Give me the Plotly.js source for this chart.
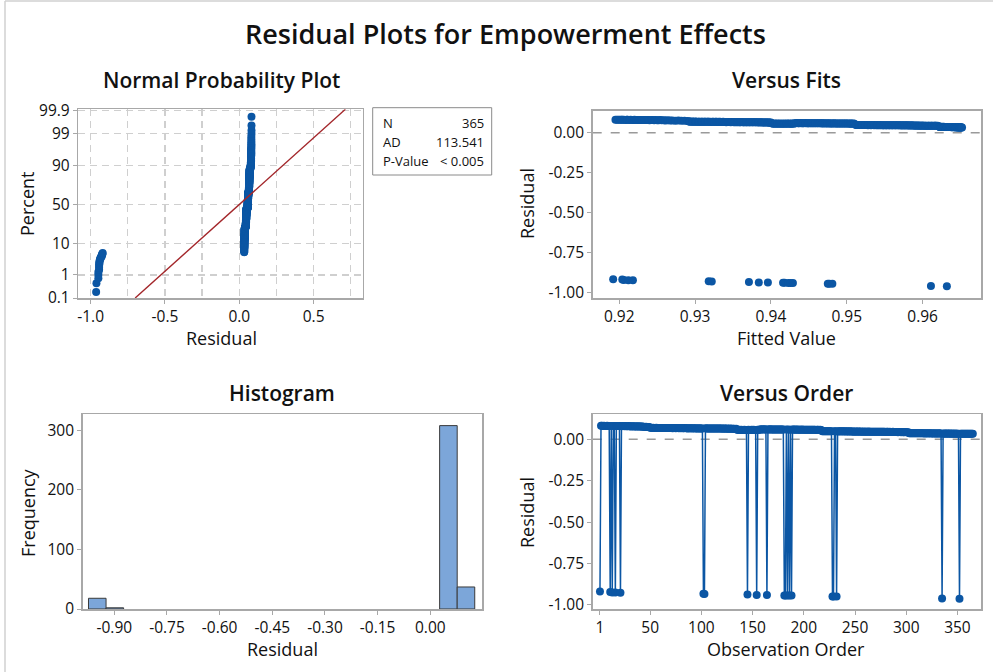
<!DOCTYPE html>
<html><head><meta charset="utf-8">
<script src="https://cdn.plot.ly/plotly-3.0.1.min.js"></script>
<style>html,body{margin:0;padding:0;background:#fff}#chart{width:993px;height:672px}</style>
</head><body><div id="chart"></div>
<script>
// Observations with a negative residual (outcome 0)
const negOrder  = [1, 11, 13, 16, 21, 102, 103, 145, 154, 164, 181, 182, 184, 186, 188, 228, 229, 232, 335, 352];
const negFitted = [0.9192, 0.9204, 0.9206, 0.9212, 0.9218, 0.9318, 0.9322, 0.9371, 0.9384, 0.9396, 0.9416, 0.9418, 0.9423, 0.9426, 0.9429, 0.9475, 0.9477, 0.9481, 0.9611, 0.9632];
const negResid  = [-0.919, -0.921, -0.924, -0.925, -0.926, -0.932, -0.933, -0.937, -0.939, -0.940, -0.942, -0.942, -0.943, -0.943, -0.943, -0.948, -0.948, -0.948, -0.961, -0.963];

// Observations with a positive residual, in observation order, by segment
const fitA = [0.9195,0.9197,0.9199,0.9201,0.9203,0.9204,0.9206,0.9208,0.9210,0.9211,0.9213,0.9215,0.9217,0.9219,0.9220,0.9222,0.9224,0.9226,0.9228,0.9229,0.9231,0.9233,0.9235,0.9237,0.9238,0.9240,0.9242,0.9244,0.9246,0.9248,0.9250,0.9252,0.9254,0.9256,0.9259,0.9261,0.9264,0.9267,0.9270,0.9274,0.9278,0.9282,0.9286,0.9290];
const resA = [0.082,0.082,0.081,0.082,0.081,0.081,0.082,0.080,0.081,0.081,0.080,0.081,0.080,0.080,0.081,0.080,0.079,0.080,0.080,0.079,0.080,0.079,0.079,0.080,0.079,0.078,0.079,0.079,0.078,0.079,0.078,0.078,0.079,0.078,0.078,0.077,0.078,0.076,0.076,0.075,0.076,0.075,0.075,0.074];
const fitB = [0.9292,0.9293,0.9294,0.9296,0.9297,0.9298,0.9300,0.9301,0.9302,0.9304,0.9305,0.9306,0.9308,0.9309,0.9310,0.9312,0.9313,0.9314,0.9316,0.9317,0.9318,0.9320,0.9321,0.9323,0.9324,0.9325,0.9327,0.9328,0.9329,0.9331,0.9332,0.9333,0.9335,0.9336,0.9337,0.9339,0.9340,0.9341,0.9343,0.9344,0.9345,0.9347,0.9348,0.9349,0.9351,0.9352,0.9353,0.9355,0.9356,0.9357,0.9359,0.9360,0.9361,0.9363,0.9364,0.9365,0.9367,0.9368,0.9369,0.9371,0.9372,0.9373,0.9375,0.9376,0.9377,0.9379,0.9380,0.9381,0.9383,0.9384,0.9385,0.9387,0.9388,0.9389,0.9391,0.9392,0.9393,0.9395,0.9396,0.9397,0.9398,0.9399,0.9400];
const resB = [0.070,0.070,0.069,0.070,0.069,0.069,0.070,0.069,0.069,0.068,0.069,0.069,0.068,0.069,0.068,0.069,0.068,0.068,0.069,0.068,0.068,0.068,0.067,0.068,0.068,0.067,0.068,0.068,0.067,0.068,0.067,0.068,0.067,0.067,0.068,0.067,0.067,0.066,0.067,0.067,0.067,0.066,0.067,0.067,0.066,0.067,0.066,0.066,0.067,0.066,0.066,0.066,0.067,0.066,0.066,0.065,0.066,0.066,0.065,0.066,0.066,0.065,0.066,0.065,0.065,0.066,0.065,0.065,0.065,0.064,0.065,0.065,0.064,0.065,0.064,0.064,0.065,0.064,0.064,0.064,0.064,0.063,0.064];
const fitC = [0.9402,0.9403,0.9405,0.9406,0.9408,0.9409,0.9411,0.9412,0.9414,0.9415,0.9417,0.9418,0.9420,0.9421,0.9423,0.9424,0.9426,0.9427,0.9428,0.9430,0.9431,0.9433,0.9434,0.9436,0.9437,0.9439,0.9440,0.9442,0.9443,0.9445,0.9446,0.9448,0.9449,0.9450,0.9452,0.9453,0.9455,0.9456,0.9458,0.9459,0.9461,0.9462,0.9464,0.9465,0.9467,0.9468,0.9469,0.9471,0.9472,0.9474,0.9475,0.9477,0.9478,0.9480,0.9481,0.9483,0.9484,0.9486,0.9487,0.9489,0.9490,0.9492,0.9493,0.9495,0.9496,0.9498,0.9499,0.9501,0.9502,0.9504,0.9505,0.9506,0.9507,0.9509,0.9510];
const resC = [0.057,0.056,0.057,0.056,0.057,0.056,0.056,0.057,0.056,0.056,0.057,0.056,0.056,0.057,0.056,0.057,0.056,0.056,0.057,0.056,0.060,0.060,0.061,0.060,0.060,0.061,0.060,0.060,0.060,0.061,0.060,0.060,0.059,0.060,0.060,0.059,0.060,0.059,0.060,0.059,0.059,0.060,0.059,0.059,0.059,0.058,0.059,0.059,0.058,0.059,0.058,0.059,0.058,0.058,0.058,0.059,0.058,0.058,0.057,0.058,0.058,0.057,0.058,0.057,0.057,0.058,0.057,0.057,0.057,0.056,0.057,0.057,0.056,0.057,0.056];
const fitD = [0.9512,0.9513,0.9515,0.9516,0.9517,0.9519,0.9520,0.9521,0.9523,0.9524,0.9525,0.9527,0.9528,0.9529,0.9531,0.9532,0.9533,0.9535,0.9536,0.9537,0.9539,0.9540,0.9541,0.9543,0.9544,0.9545,0.9547,0.9548,0.9549,0.9551,0.9552,0.9553,0.9555,0.9556,0.9557,0.9559,0.9560,0.9561,0.9563,0.9564,0.9565,0.9567,0.9568,0.9569,0.9571,0.9572,0.9573,0.9575,0.9576,0.9577,0.9579,0.9580,0.9581,0.9583,0.9584,0.9585,0.9587,0.9588,0.9589,0.9591,0.9592,0.9593,0.9595,0.9596,0.9597,0.9599,0.9600,0.9601,0.9603,0.9604,0.9605,0.9607,0.9608,0.9609,0.9611,0.9612,0.9613,0.9615,0.9616,0.9617,0.9618,0.9620];
const resD = [0.049,0.049,0.048,0.049,0.048,0.049,0.048,0.048,0.049,0.048,0.048,0.048,0.047,0.048,0.048,0.047,0.048,0.048,0.047,0.048,0.047,0.048,0.047,0.047,0.048,0.047,0.047,0.047,0.046,0.047,0.047,0.046,0.047,0.047,0.046,0.047,0.046,0.046,0.047,0.046,0.046,0.046,0.047,0.046,0.046,0.045,0.046,0.046,0.045,0.046,0.046,0.045,0.046,0.045,0.045,0.046,0.045,0.045,0.045,0.044,0.045,0.045,0.044,0.045,0.044,0.044,0.045,0.044,0.044,0.044,0.044,0.043,0.044,0.044,0.043,0.044,0.043,0.043,0.044,0.043,0.043,0.043];
const fitE = [0.9622,0.9622,0.9623,0.9623,0.9624,0.9624,0.9625,0.9625,0.9626,0.9626,0.9627,0.9627,0.9628,0.9628,0.9629,0.9629,0.9630,0.9630,0.9631,0.9631,0.9632,0.9632,0.9633,0.9633,0.9634,0.9634,0.9635,0.9635,0.9636,0.9636,0.9637,0.9637,0.9638,0.9638,0.9639,0.9639,0.9640,0.9640,0.9641,0.9641,0.9642,0.9642,0.9643,0.9643,0.9644,0.9644,0.9645,0.9645,0.9646,0.9646,0.9647,0.9647,0.9648,0.9648,0.9649,0.9649,0.9650,0.9650,0.9651,0.9651,0.9652];
const resE = [0.037,0.037,0.036,0.037,0.036,0.037,0.036,0.036,0.037,0.036,0.036,0.036,0.037,0.036,0.036,0.035,0.036,0.036,0.035,0.036,0.036,0.035,0.036,0.035,0.035,0.036,0.035,0.035,0.035,0.036,0.035,0.035,0.034,0.035,0.035,0.034,0.035,0.035,0.034,0.035,0.034,0.035,0.034,0.034,0.035,0.034,0.034,0.034,0.033,0.034,0.034,0.033,0.034,0.034,0.033,0.034,0.033,0.033,0.034,0.033,0.033];

// Stats box and tick labels
const statLabels = ["N", "AD", "P-Value"];
const statValues = ["365", "113.541", "< 0.005"];
const probTicks = [0.1, 1, 10, 50, 90, 99, 99.9];
const npXTicks = [-1.0, -0.5, 0.0, 0.5];
const fitsXTicks = [0.92, 0.93, 0.94, 0.95, 0.96];
const residYTicks = [0.00, -0.25, -0.50, -0.75, -1.00];
const histXTicks = [-0.90, -0.75, -0.60, -0.45, -0.30, -0.15, 0.00];
const histYTicks = [0, 100, 200, 300];
const orderXTicks = [1, 50, 100, 150, 200, 250, 300, 350];

// ---- Assemble observations in order ----
const posFit = fitA.concat(fitB, fitC, fitD, fitE);
const posRes = resA.concat(resB, resC, resD, resE);
const N = posFit.length + negOrder.length;
const orderX = [], fitted = [], resid = [];
let pi = 0;
for (let i = 1; i <= N; i++) {
  const k = negOrder.indexOf(i);
  orderX.push(i);
  if (k >= 0) { fitted.push(negFitted[k]); resid.push(negResid[k]); }
  else { fitted.push(posFit[pi]); resid.push(posRes[pi]); pi++; }
}

// inverse normal CDF (Acklam)
function invNorm(p) {
  const a=[-3.969683028665376e+01,2.209460984245205e+02,-2.759285104469687e+02,1.383577518672690e+02,-3.066479806614716e+01,2.506628277459239e+00];
  const b=[-5.447609879822406e+01,1.615858368580409e+02,-1.556989798598866e+02,6.680131188771972e+01,-1.328068155288572e+01];
  const c=[-7.784894002430293e-03,-3.223964580411365e-01,-2.400758277161838e+00,-2.549732539343734e+00,4.374664141464968e+00,2.938163982698783e+00];
  const d=[7.784695709041462e-03,3.224671290700398e-01,2.445134137142996e+00,3.754408661907416e+00];
  const pl=0.02425, ph=1-pl; let q,r;
  if (p<pl){q=Math.sqrt(-2*Math.log(p));return (((((c[0]*q+c[1])*q+c[2])*q+c[3])*q+c[4])*q+c[5])/((((d[0]*q+d[1])*q+d[2])*q+d[3])*q+1);}
  if (p<=ph){q=p-0.5;r=q*q;return (((((a[0]*r+a[1])*r+a[2])*r+a[3])*r+a[4])*r+a[5])*q/(((((b[0]*r+b[1])*r+b[2])*r+b[3])*r+b[4])*r+1);}
  q=Math.sqrt(-2*Math.log(1-p));return -(((((c[0]*q+c[1])*q+c[2])*q+c[3])*q+c[4])*q+c[5])/((((d[0]*q+d[1])*q+d[2])*q+d[3])*q+1);
}
const sorted = resid.slice().sort((a,b)=>a-b);
const zScores = sorted.map((v,i)=>invNorm((i+1-0.3)/(N+0.4)));
const mean = resid.reduce((s,v)=>s+v,0)/N;
const sd = Math.sqrt(resid.reduce((s,v)=>s+(v-mean)*(v-mean),0)/(N-1));
const zLo = invNorm(0.001), zHi = invNorm(0.999) + 0.045;
const lineZ = [zLo, zHi];
const lineX = lineZ.map(z=>mean+sd*z);

// ---- Styling ----
const BLUE = '#0b56a4';
const FONT = 'Open Sans, Noto Sans, sans-serif';
const FRAME = '#a8a8a8';
const GRID = '#cfcfcf';
const W = 993, H = 672;
const px = x => x / W, py = y => 1 - y / H;
const fmt = (arr, d) => arr.map(v => v.toFixed(d));

const baseAxis = {
  showline: true, linecolor: FRAME, linewidth: 1.5, mirror: true,
  ticks: 'outside', ticklen: 4, tickcolor: FRAME, tickwidth: 1,
  showgrid: false, zeroline: false, fixedrange: true,
  tickfont: {family: FONT, size: 15.5, color: '#111'}
};

const traces = [
  {x: sorted, y: zScores, xaxis: 'x', yaxis: 'y', type: 'scatter', mode: 'markers',
   marker: {color: BLUE, size: 8}, hoverinfo: 'skip'},
  {x: lineX, y: lineZ, xaxis: 'x', yaxis: 'y', type: 'scatter', mode: 'lines',
   line: {color: '#a3262a', width: 1.4}, hoverinfo: 'skip'},
  {x: fitted, y: resid, xaxis: 'x2', yaxis: 'y2', type: 'scatter', mode: 'markers',
   marker: {color: BLUE, size: 8}, hoverinfo: 'skip'},
  {x: resid, xaxis: 'x3', yaxis: 'y3', type: 'histogram',
   xbins: {start: -0.9735, end: 0.1265, size: 0.05},
   marker: {color: '#7ca6d9', line: {color: '#3a3a3a', width: 1}}, hoverinfo: 'skip'},
  {x: orderX, y: resid, xaxis: 'x4', yaxis: 'y4', type: 'scatter', mode: 'lines+markers',
   line: {color: BLUE, width: 1.5}, marker: {color: BLUE, size: 8}, hoverinfo: 'skip'}
];

const ann = (text, x, y, size, weight, extra) => Object.assign({
  text, x: px(x), y: py(y), xref: 'paper', yref: 'paper', showarrow: false,
  xanchor: 'center', yanchor: 'middle',
  font: {family: FONT, size, color: '#111', weight: weight || 400}
}, extra || {});

const annotations = [
  ann('Residual Plots for Empowerment Effects', 505, 33, 27, 600),
  ann('Normal Probability Plot', 221, 80, 21, 600),
  ann('Versus Fits', 786, 80, 21, 600),
  ann('Histogram', 282, 393, 21, 600),
  ann('Versus Order', 786, 393, 21, 600),
  ann('Residual', 221, 338, 18),
  ann('Percent', 27, 204, 18, 400, {textangle: -90}),
  ann('Fitted Value', 786, 338, 18),
  ann('Residual', 527, 204, 18, 400, {textangle: -90}),
  ann('Residual', 282, 649, 18),
  ann('Frequency', 28, 513, 18, 400, {textangle: -90}),
  ann('Observation Order', 786, 649, 18),
  ann('Residual', 527, 513, 18, 400, {textangle: -90})
];
const statY = [123, 142, 161];
statLabels.forEach((t, i) => {
  annotations.push(ann(t, 381, statY[i], 13, 400, {xanchor: 'left'}));
  annotations.push(ann(statValues[i], 486, statY[i], 13, 400, {xanchor: 'right'}));
});

const shapes = [
  {type: 'rect', xref: 'paper', yref: 'paper', x0: px(372.7), x1: px(491.7), y0: py(175), y1: py(107.7),
   line: {color: '#8a8a8a', width: 1}},
  {type: 'line', xref: 'x2 domain', yref: 'y2', x0: 0, x1: 1, y0: 0, y1: 0,
   line: {color: '#9a9a9a', width: 1.5, dash: 'dash'}, layer: 'below'},
  {type: 'line', xref: 'x4 domain', yref: 'y4', x0: 0, x1: 1, y0: 0, y1: 0,
   line: {color: '#9a9a9a', width: 1.5, dash: 'dash'}, layer: 'below'},
  {type: 'line', xref: 'paper', yref: 'paper', x0: px(5), x1: 1, y0: py(1), y1: py(1),
   line: {color: '#d0d0d0', width: 1.5}},
  {type: 'line', xref: 'paper', yref: 'paper', x0: px(5), x1: px(5), y0: py(1), y1: 0,
   line: {color: '#d0d0d0', width: 1.5}}
];

const layout = {
  width: W, height: H, margin: {l: 0, r: 0, t: 0, b: 0},
  paper_bgcolor: '#fff', plot_bgcolor: '#fff', showlegend: false, bargap: 0,
  xaxis: Object.assign({}, baseAxis, {domain: [px(78.3), px(362.7)], anchor: 'y', range: [-1.083, 0.83],
    tickvals: npXTicks, ticktext: fmt(npXTicks, 1),
    showgrid: true, gridcolor: GRID, griddash: '7px,5px', gridwidth: 1.3,
    minor: {tickvals: [-0.75, -0.25, 0.25, 0.75], showgrid: true, gridcolor: GRID, griddash: '7px,5px', gridwidth: 1.3, ticks: ''}}),
  yaxis: Object.assign({}, baseAxis, {domain: [py(298), py(109.3)], anchor: 'x', range: [zLo, zHi],
    tickvals: probTicks.map(p => invNorm(p / 100)), ticktext: probTicks.map(String),
    showgrid: true, gridcolor: GRID, griddash: '7px,5px', gridwidth: 1.3}),
  xaxis2: Object.assign({}, baseAxis, {domain: [px(592.7), px(981)], anchor: 'y2', range: [0.9165, 0.9677],
    tickvals: fitsXTicks, ticktext: fmt(fitsXTicks, 2)}),
  yaxis2: Object.assign({}, baseAxis, {domain: [py(298), py(110.7)], anchor: 'x2', range: [-1.037, 0.138],
    tickvals: residYTicks, ticktext: fmt(residYTicks, 2)}),
  xaxis3: Object.assign({}, baseAxis, {domain: [px(82.7), px(482.3)], anchor: 'y3', range: [-0.990, 0.148],
    tickvals: histXTicks, ticktext: fmt(histXTicks, 2)}),
  yaxis3: Object.assign({}, baseAxis, {domain: [py(609.3), py(414.3)], anchor: 'x3', range: [-0.5, 327],
    tickvals: histYTicks, ticktext: histYTicks.map(String)}),
  xaxis4: Object.assign({}, baseAxis, {domain: [px(592.7), px(981)], anchor: 'y4', range: [-6.1, 373],
    tickvals: orderXTicks, ticktext: orderXTicks.map(String)}),
  yaxis4: Object.assign({}, baseAxis, {domain: [py(609.3), py(414.3)], anchor: 'x4', range: [-1.026, 0.151],
    tickvals: residYTicks, ticktext: fmt(residYTicks, 2)}),
  annotations, shapes
};

Plotly.newPlot('chart', traces, layout, {displayModeBar: false, staticPlot: true});
</script></body></html>
